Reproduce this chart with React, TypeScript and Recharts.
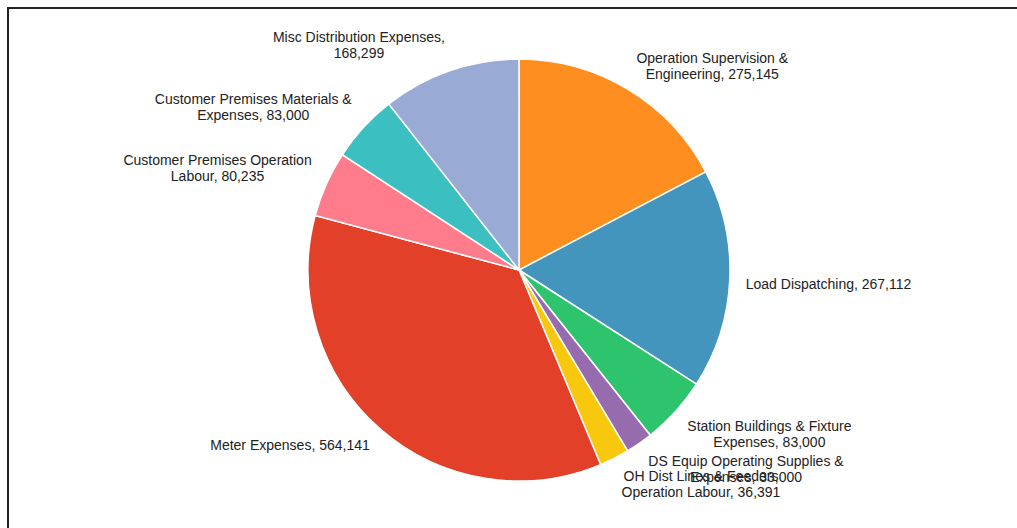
import React from "react";
import { PieChart, Pie, Cell } from "recharts";

const categories = [
  "Operation Supervision & Engineering",
  "Load Dispatching",
  "Station Buildings & Fixture Expenses",
  "DS Equip Operating Supplies & Expenses",
  "OH Dist Lines & Feeders Operation Labour",
  "Meter Expenses",
  "Customer Premises Operation Labour",
  "Customer Premises Materials & Expenses",
  "Misc Distribution Expenses",
];
const values = [275145, 267112, 83000, 33000, 36391, 564141, 80235, 83000, 168299];
const colors = [
  "#FE8E1F",
  "#4395BD",
  "#2EC46D",
  "#976CAE",
  "#F8C80E",
  "#E3402A",
  "#FE7C8C",
  "#3CBFC1",
  "#99ABD5",
];

const data = categories.map((name, i) => ({ name, value: values[i] }));

const FONT = "14px Arial, 'Liberation Sans', sans-serif";
let ctx: CanvasRenderingContext2D | null = null;
function measure(t: string): number {
  if (!ctx) {
    const c = document.createElement("canvas");
    ctx = c.getContext("2d");
  }
  if (ctx) {
    ctx.font = FONT;
    return ctx.measureText(t).width;
  }
  return t.length * 7.2;
}
function wrap(text: string, maxW: number): string[] {
  const words = text.split(" ");
  const lines: string[] = [];
  let cur = "";
  for (const w of words) {
    const test = cur ? cur + " " + w : w;
    if (cur && measure(test) > maxW) {
      lines.push(cur);
      cur = w;
    } else cur = test;
  }
  if (cur) lines.push(cur);
  return lines;
}

const RAD = Math.PI / 180;
const renderLabel = (props: any) => {
  const { cx, cy, midAngle, outerRadius, name, value } = props;
  const r = outerRadius + 16;
  const x = cx + r * Math.cos(-midAngle * RAD);
  const y = cy + r * Math.sin(-midAngle * RAD);
  const text = `${name}, ${Number(value).toLocaleString("en-US")}`;
  const lines = wrap(text, 215);
  const bw = Math.max(...lines.map(measure));
  const right = x >= cx;
  const centerX = right ? x + bw / 2 : x - bw / 2;
  const lh = 16;
  const startY = y < cy ? y - (lines.length - 1) * lh - 2 : y + 4;
  return (
    <text
      x={centerX}
      y={startY}
      textAnchor="middle"
      dominantBaseline="central"
      fill="#222"
      style={{ font: FONT }}
    >
      {lines.map((l, i) => (
        <tspan key={i} x={centerX} y={startY + i * lh}>
          {l}
        </tspan>
      ))}
    </text>
  );
};

export default function App() {
  return (
    <div
      style={{
        position: "absolute",
        left: 7,
        top: 7,
        width: 1030,
        height: 540,
        border: "2px solid #222",
        background: "#fff",
      }}
    >
      <PieChart width={1030} height={540} margin={{ top: 0, right: 0, bottom: 0, left: 0 }}>
        <Pie
          data={data}
          dataKey="value"
          nameKey="name"
          cx={510}
          cy={261}
          outerRadius={211}
          startAngle={90}
          endAngle={-270}
          stroke="#fff"
          strokeWidth={1.5}
          label={renderLabel}
          labelLine={false}
          isAnimationActive={false}
        >
          {data.map((d, i) => (
            <Cell key={d.name} fill={colors[i]} />
          ))}
        </Pie>
      </PieChart>
    </div>
  );
}
